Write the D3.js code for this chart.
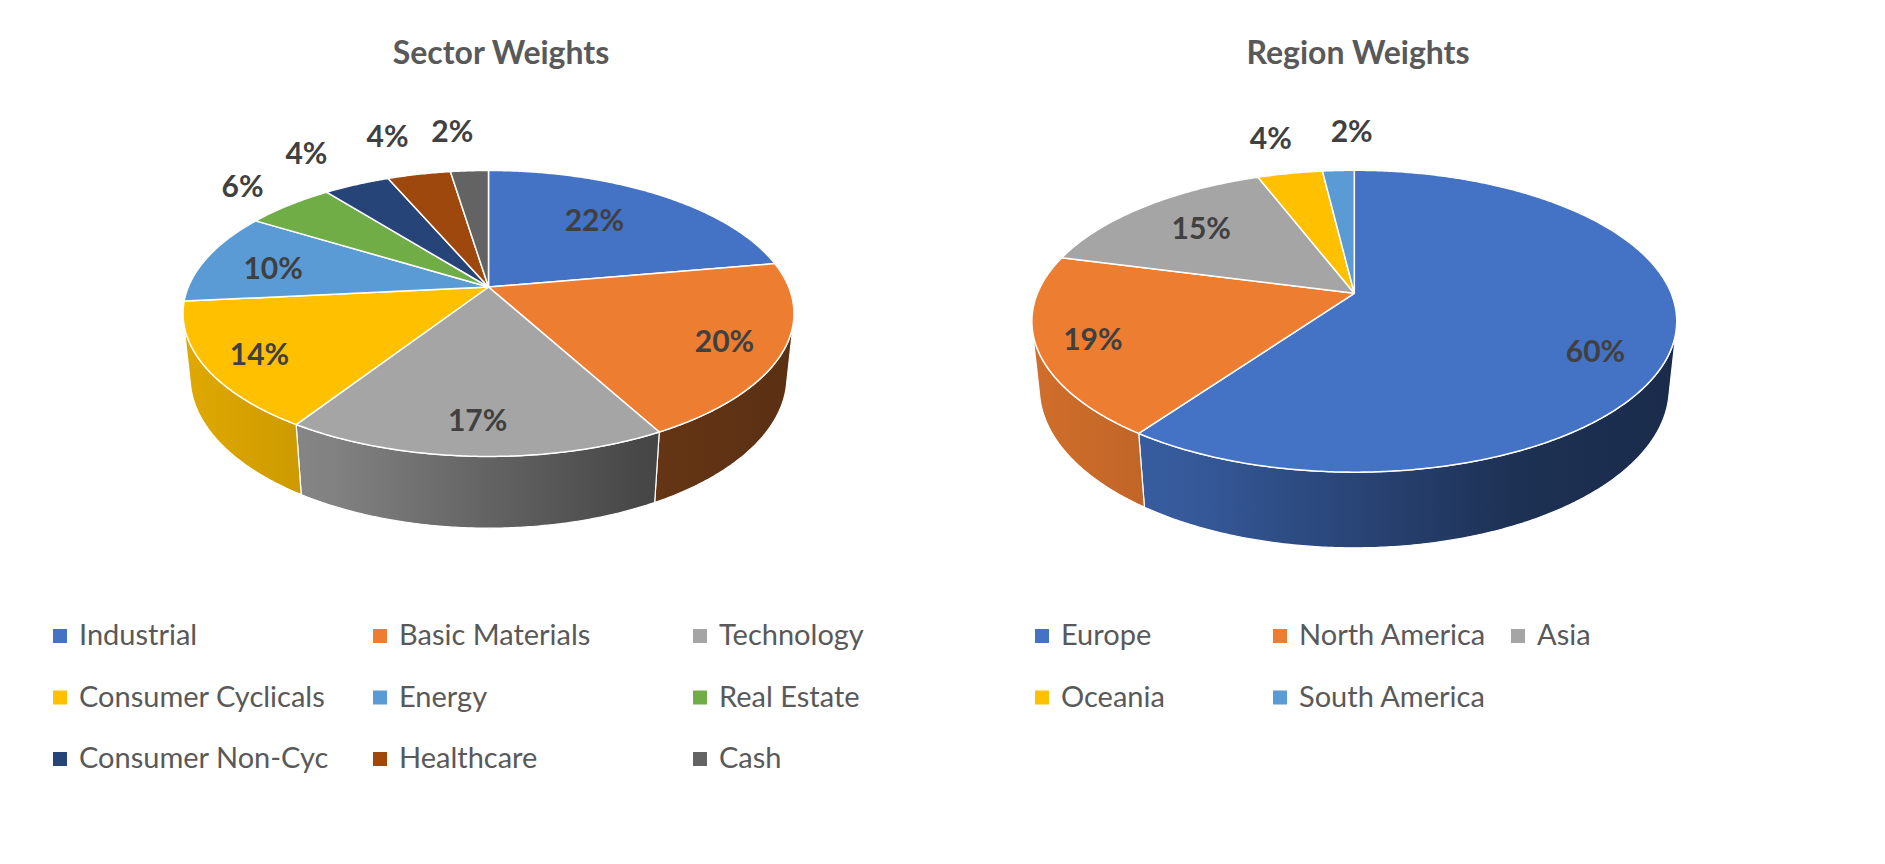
<!DOCTYPE html>
<html>
<head>
<meta charset="utf-8">
<script src="https://cdn.jsdelivr.net/npm/d3@7"></script>
<style>
  body { margin: 0; background: #fff; }
  svg text { font-family: Lato, "Open Sans", sans-serif; }
</style>
</head>
<body>
<svg id="chart" width="1885" height="864"></svg>
<script>
// data (percent)
const sectorNames = ["Industrial", "Basic Materials", "Technology", "Consumer Cyclicals", "Energy",
                     "Real Estate", "Consumer Non-Cyc", "Healthcare", "Cash"];
const sectorValues = [22.2, 19.9, 17.0, 14.3, 10.4, 5.6, 4.2, 4.0, 2.4];
const sectorColors = ["#4472C4", "#ED7D31", "#A5A5A5", "#FFC000", "#5B9BD5",
                      "#70AD47", "#264478", "#9E480E", "#636363"];

const regionNames = ["Europe", "North America", "Asia", "Oceania", "South America"];
const regionValues = [59.8, 19.3, 15.1, 3.9, 1.9];
const regionColors = ["#4472C4", "#ED7D31", "#A5A5A5", "#FFC000", "#5B9BD5"];

// label placement: [radius in pie units, angle shift in degrees]
const sectorLabelLayout = [[0.66, -4], [0.82, 1], [0.82, 0], [0.83, -1], [0.75, -2],
                           [1.27, 0], [1.39, -1.5], [1.43, -1.3], [1.43, -1.8]];
const regionLabelLayout = [[0.8, 10], [0.834, -0.8], [0.72, 1], [1.37, 0], [1.395, 3]];

const svg = d3.select("#chart");

// simple perspective camera looking down on the pie
const sinA = 0.46, cosA = Math.sqrt(1 - sinA * sinA);
const camDist = 4.8;      // in pie radii
const thick = 0.24;       // pie height in pie radii
const visStart = Math.acos(-1 / (camDist * cosA));
const visEnd = 2 * Math.PI - visStart;

// side shading, left (lit) to right (dark)
const shadeT = [0, 0.25, 0.5, 0.75, 1];
const shadeK = [0.88, 0.78, 0.6, 0.43, 0.38];

const pct = d3.format(".0f");
const defs = svg.append("defs");

function drawPie(id, cx, cy, f, names, values, colors, layout, title, titleX) {
    const project = (th, r, z) => {
        const u = r * Math.sin(th), v = -r * Math.cos(th);
        const d = camDist - v * cosA - z * sinA;
        return [cx + f * u / d, cy + f * (v * sinA - z * cosA) / d];
    };
    const arcPts = (a0, a1, r, z) => {
        const n = Math.max(2, Math.ceil((a1 - a0) / (Math.PI / 360)));
        return d3.range(n + 1).map(i => project(a0 + (a1 - a0) * i / n, r, z));
    };
    const line = d3.line();
    const arcs = d3.pie().sort(null).value(d => d)(values);
    const halfW = f / Math.sqrt(camDist * camDist - cosA * cosA);

    colors.forEach((c, i) => {
        const g = defs.append("linearGradient")
            .attr("id", `${id}-side-${i}`)
            .attr("gradientUnits", "userSpaceOnUse")
            .attr("x1", cx - halfW).attr("x2", cx + halfW)
            .attr("y1", 0).attr("y2", 0);
        const rgb = d3.rgb(c);
        shadeT.forEach((t, j) => {
            const k = shadeK[j];
            g.append("stop").attr("offset", t)
                .attr("stop-color", d3.rgb(rgb.r * k, rgb.g * k, rgb.b * k).formatHex());
        });
    });

    const root = svg.append("g").attr("class", id);

    // visible sides
    const sides = arcs.map((a, i) => {
        const a0 = Math.max(a.startAngle, visStart), a1 = Math.min(a.endAngle, visEnd);
        return a1 > a0 ? { i, pts: arcPts(a0, a1, 1, 0).concat(arcPts(a0, a1, 1, -thick).reverse()) } : null;
    }).filter(d => d);

    root.selectAll(".side")
        .data(sides)
        .enter().append("path")
        .attr("class", "side")
        .attr("d", d => line(d.pts) + "Z")
        .attr("fill", d => `url(#${id}-side-${d.i})`)
        .attr("stroke", "#fff")
        .attr("stroke-width", 1.2)
        .attr("stroke-linejoin", "round");

    // top faces
    root.selectAll(".slice")
        .data(arcs)
        .enter().append("path")
        .attr("class", "slice")
        .attr("d", a => line([[cx, cy]].concat(arcPts(a.startAngle, a.endAngle, 1, 0))) + "Z")
        .attr("fill", (a, i) => colors[i])
        .attr("stroke", "#fff")
        .attr("stroke-width", 1.5)
        .attr("stroke-linejoin", "round");

    // data labels
    root.selectAll(".lbl")
        .data(arcs)
        .enter().append("text")
        .attr("class", "lbl")
        .attr("transform", (a, i) => {
            const th = (a.startAngle + a.endAngle) / 2 + layout[i][1] * Math.PI / 180;
            return `translate(${project(th, layout[i][0], 0)})`;
        })
        .attr("dy", "0.36em")
        .attr("text-anchor", "middle")
        .attr("font-size", 30)
        .attr("font-weight", "bold")
        .attr("fill", "#404040")
        .text(a => pct(a.value) + "%");

    svg.append("text")
        .attr("x", titleX).attr("y", 64)
        .attr("text-anchor", "middle")
        .attr("font-size", 32)
        .attr("font-weight", "bold")
        .attr("fill", "#595959")
        .text(title);
}

function drawLegend(x0, colStep, names, colors) {
    const items = svg.append("g").selectAll(".item")
        .data(names)
        .enter().append("g")
        .attr("class", "item")
        .attr("transform", (d, i) => `translate(${x0 + (i % 3) * colStep},${645 + Math.floor(i / 3) * 61.5})`);
    items.append("rect")
        .attr("x", 0).attr("y", -16)
        .attr("width", 14).attr("height", 14)
        .attr("fill", (d, i) => colors[i]);
    items.append("text")
        .attr("x", 26).attr("y", 0)
        .attr("font-size", 29)
        .attr("fill", "#595959")
        .text(d => d);
}

drawPie("sector", 488.5, 287, 1441, sectorNames, sectorValues, sectorColors, sectorLabelLayout,
        "Sector Weights", 501);
drawPie("region", 1354.3, 293.3, 1521, regionNames, regionValues, regionColors, regionLabelLayout,
        "Region Weights", 1358);

drawLegend(53, 320, sectorNames, sectorColors);
drawLegend(1035, 238, regionNames, regionColors);
</script>
</body>
</html>
